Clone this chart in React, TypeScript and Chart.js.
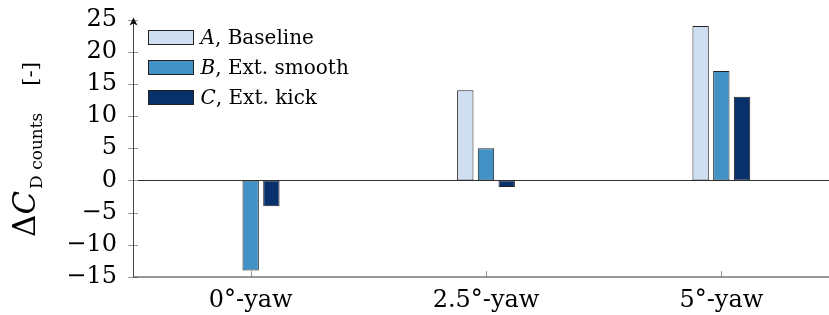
import React, { useEffect, useRef } from 'react';
import { Chart, registerables } from 'chart.js';

Chart.register(...registerables);

// ---- data ----
const categories = ['0°-yaw', '2.5°-yaw', '5°-yaw'];
const seriesLetters = ['A', 'B', 'C'];
const seriesNames = ['Baseline', 'Ext. smooth', 'Ext. kick'];
const baselineValues = [0, 14, 24];
const smoothValues = [-14, 5, 17];
const kickValues = [-4, -1, 13];
const yMin = -15;
const yMax = 25;
const yStep = 5;

// ---- styles ----
const seriesColors = ['#cfdff1', '#4292c6', '#08306b'];
const FONT = '"DejaVu Serif", serif';

const decorPlugin = {
  id: 'decor',
  beforeDatasetsDraw(chart: any) {
    const { ctx, chartArea: a, scales } = chart;
    const y0 = Math.round(scales.y.getPixelForValue(0)) + 0.5;
    ctx.save();
    ctx.strokeStyle = '#333';
    ctx.lineWidth = 1.2;
    ctx.beginPath();
    ctx.moveTo(a.left, y0);
    ctx.lineTo(a.right, y0);
    ctx.stroke();
    ctx.restore();
  },
  afterDraw(chart: any) {
    const { ctx, chartArea: a, scales } = chart;
    const x = scales.x;
    const y = scales.y;
    ctx.save();
    // y ticks (crossing axis)
    ctx.strokeStyle = '#999';
    ctx.lineWidth = 1;
    for (let v = yMin; v <= yMax; v += yStep) {
      const py = Math.round(y.getPixelForValue(v)) + 0.5;
      ctx.beginPath();
      ctx.moveTo(a.left - 5, py);
      ctx.lineTo(a.left + 5, py);
      ctx.stroke();
    }
    // x ticks (inward)
    for (let i = 0; i < categories.length; i++) {
      const px = Math.round(x.getPixelForValue(i)) + 0.5;
      ctx.beginPath();
      ctx.moveTo(px, a.bottom);
      ctx.lineTo(px, a.bottom - 6);
      ctx.stroke();
    }
    // bottom axis
    ctx.strokeStyle = '#333';
    ctx.lineWidth = 1.2;
    ctx.beginPath();
    ctx.moveTo(a.left, a.bottom);
    ctx.lineTo(a.right, a.bottom);
    ctx.stroke();
    // y axis with arrow
    const ax = Math.round(a.left) + 0.5;
    ctx.strokeStyle = '#444';
    ctx.lineWidth = 1;
    ctx.beginPath();
    ctx.moveTo(ax, a.bottom);
    ctx.lineTo(ax, a.top + 3);
    ctx.stroke();
    ctx.fillStyle = '#111';
    ctx.beginPath();
    ctx.moveTo(ax, a.top - 2);
    ctx.lineTo(ax - 4, a.top + 6);
    ctx.lineTo(ax, a.top + 4);
    ctx.lineTo(ax + 4, a.top + 6);
    ctx.closePath();
    ctx.fill();

    // legend
    ctx.textBaseline = 'alphabetic';
    ctx.textAlign = 'left';
    for (let i = 0; i < seriesNames.length; i++) {
      const cy = a.top + 18 + 30 * i;
      const bx = a.left + 15.5;
      ctx.fillStyle = seriesColors[i];
      ctx.fillRect(bx, cy - 7, 45, 14);
      ctx.strokeStyle = '#222';
      ctx.lineWidth = 1;
      ctx.strokeRect(bx, cy - 7, 45, 14);
      ctx.fillStyle = '#000';
      ctx.font = 'italic 20px ' + FONT;
      const tx = bx + 52;
      ctx.fillText(seriesLetters[i], tx, cy + 6.5);
      const lw = ctx.measureText(seriesLetters[i]).width;
      ctx.font = '20px ' + FONT;
      ctx.fillText(', ' + seriesNames[i], tx + lw, cy + 6.5);
    }

    // y-axis title
    ctx.translate(35, 237);
    ctx.rotate(-Math.PI / 2);
    ctx.fillStyle = '#000';
    ctx.font = '31px ' + FONT;
    ctx.fillText('Δ', 0, 0);
    let w = ctx.measureText('Δ').width;
    ctx.font = 'italic 31px ' + FONT;
    ctx.fillText('C', w, 0);
    w += ctx.measureText('C').width + 2;
    ctx.font = '17px ' + FONT;
    ctx.fillText('D counts', w, 7);
    w += ctx.measureText('D counts').width + 27;
    ctx.font = '21px ' + FONT;
    ctx.fillText('[-]', w, 2);
    ctx.restore();
  },
};

export default function App() {
  const ref = useRef<HTMLCanvasElement>(null);
  useEffect(() => {
    if (!ref.current) return;
    const mk = (i: number, data: number[]) => ({
      label: seriesNames[i],
      data,
      backgroundColor: seriesColors[i],
      borderColor: '#222',
      borderWidth: 1,
      borderSkipped: false,
      categoryPercentage: 0.264,
      barPercentage: 0.79,
    });
    const chart = new Chart(ref.current, {
      type: 'bar',
      data: {
        labels: categories,
        datasets: [mk(0, baselineValues), mk(1, smoothValues), mk(2, kickValues)],
      },
      options: {
        responsive: false,
        animation: false,
        devicePixelRatio: 1,
        layout: { padding: { left: 0, right: 0, top: 19.5, bottom: 0 } },
        plugins: { legend: { display: false }, tooltip: { enabled: false } },
        scales: {
          x: {
            type: 'category',
            offset: true,
            grid: { display: false, drawTicks: false },
            border: { display: false },
            ticks: { color: '#000', font: { family: FONT, size: 24 }, padding: 9, maxRotation: 0 },
            afterFit: (s: any) => {
              s.height = 38;
              s.paddingLeft = 0;
              s.paddingRight = 0;
            },
          },
          y: {
            min: yMin,
            max: yMax,
            grid: { display: false, drawTicks: false },
            border: { display: false },
            ticks: {
              stepSize: yStep,
              autoSkip: false,
              color: '#000',
              font: { family: FONT, size: 24 },
              padding: 16,
              callback: (v: any) => (Number(v) < 0 ? '\u2212' + Math.abs(Number(v)) : String(v)),
            },
            afterFit: (s: any) => {
              s.width = 133;
              s.paddingTop = 0;
              s.paddingBottom = 0;
            },
          },
        },
      },
      plugins: [decorPlugin],
    } as any);
    return () => chart.destroy();
  }, []);
  return (
    <div style={{ position: 'fixed', left: 0, top: 0, width: 829, height: 315, overflow: 'hidden', background: '#fff' }}>
      <canvas ref={ref} width={839} height={315} style={{ width: 839, height: 315, display: 'block' }} />
    </div>
  );
}
